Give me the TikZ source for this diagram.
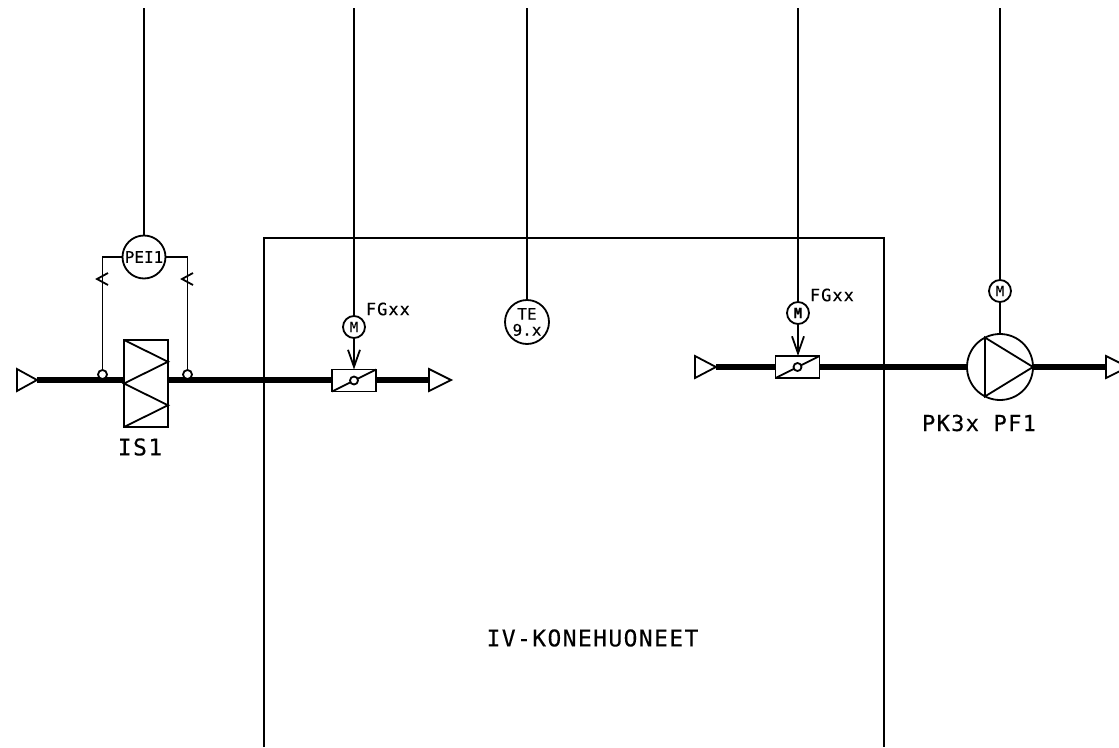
\documentclass[tikz,border=0pt]{standalone}
\usepackage{fontspec}
\newfontfamily\cadfont{DejaVu Sans Mono}[LetterSpace=6,FakeBold=0.3]
\newfontfamily\cadtight{DejaVu Sans Mono}[FakeBold=0.3]
\usetikzlibrary{arrows.meta}
\tikzset{
	fine/.style={line width=1.8pt},
	pipe/.style={line width=5.2pt},
	instr/.style={draw,circle,fine,fill=white,inner sep=0pt,outer sep=0pt,minimum size=#1},
	valve/.style={draw,rectangle,fine,fill=white,inner sep=0pt,outer sep=0pt,minimum width=44pt,minimum height=22pt},
	tapdot/.style={draw,circle,fine,fill=white,inner sep=0pt,outer sep=0pt,minimum size=#1},
	barb/.style={-{Straight Barb[length=17pt,width=12pt,line width=1.8pt]}},
	label/.style={inner sep=0pt,font=\cadfont\fontsize{#1}{#1}\selectfont}
}
\begin{document}
\begin{tikzpicture}[x=1pt,y=-1pt,fine]
	\path[use as bounding box,clip] (0,0) rectangle (1119,747);

	%free ends
	\coordinate (topA) at (144,8);
	\coordinate (topB) at (354,8);
	\coordinate (topC) at (527,8);
	\coordinate (topD) at (798,8);
	\coordinate (topE) at (1000,8);
	\coordinate (inA) at (37,380); %inlet left
	\coordinate (outA) at (429,380); %outlet left
	\coordinate (inB) at (716,367); %inlet right
	\coordinate (outB) at (1106,367); %outlet right
	\coordinate (tickA) at (102.5,279);
	\coordinate (tickB) at (187.5,279);

	%room
	\draw (264,747) |- (884,238) -- (884,747);

	%equipment
	\node[valve,minimum width=44pt,minimum height=87pt] (filter) at (146,383.5) {};
	\node[valve] (damperA) at (354,380.5) {};
	\node[valve] (damperB) at (797.5,367) {};
	\node[instr=66pt] (pump) at (1000,367) {};

	%pipes
	\draw[pipe] (inA) -- (inA -| filter.west);
	\draw[pipe] (inA -| filter.east) -- (inA -| damperA.west);
	\draw[pipe] (inA -| damperA.east) -- (outA);
	\draw[pipe] (inB) -- (damperB.west);
	\draw[pipe] (damperB.east) -- (pump.west);
	\draw[pipe] (pump.east) -- (outB);

	%triangles
	\draw (inA) -- ++(-20,-11) -- ++(0,22) -- cycle;
	\draw (outA) ++(0,-11) -- ++(22,11) -- ++(-22,11) -- cycle;
	\draw (inB) -- ++(-21,-11) -- ++(0,22) -- cycle;
	\draw (outB) ++(0,-11) -- ++(22,11) -- ++(-22,11) -- cycle;

	%filter and pump insides
	\draw (filter.north west) -- ++(44,21.75) -- ++(-44,21.75) -- ++(44,21.75) -- ++(-44,21.75);
	\draw (pump.117) -- (pump.243) -- (pump.east) -- cycle;

	%damper blades
	\draw (damperA.south west) -- (damperA.north east);
	\draw (damperB.south west) -- (damperB.north east);
	\node[tapdot=8pt] (bladeA) at (damperA.center) {};
	\node[tapdot=8pt] (bladeB) at (damperB.center) {};

	%instruments
	\node[instr=43pt,font=\cadtight\fontsize{16}{16}\selectfont] (pei) at (144,257) {PEI1};
	\node[instr=44pt,align=center,font=\cadtight\fontsize{16}{15}\selectfont] (te) at (527,322) {TE\\[1pt]9.x};
	\node[instr=22pt,font=\cadfont\fontsize{14}{14}\selectfont] (motorA) at (354,327) {M};
	\node[instr=22pt,font=\cadfont\bfseries\fontsize{14}{14}\selectfont] (motorB) at (798,313) {M};
	\node[instr=22pt,font=\cadfont\fontsize{14}{14}\selectfont] (motorC) at (1000,291) {M};
	\node[tapdot=9pt] (tapA) at (102.5,374.5) {};
	\node[tapdot=9pt] (tapB) at (187.5,374.5) {};

	%signal lines
	\draw (topA) -- (pei);
	\draw (topB) -- (motorA);
	\draw (topC) -- (te);
	\draw (topD) -- (motorB);
	\draw (topE) -- (motorC);
	\draw[barb] (motorA) -- (damperA.north -| motorA);
	\draw[barb] (motorB) -- (damperB.north -| motorB);
	\draw (motorC) -- (pump);
	\draw (pei.west) -| (tapA);
	\draw (pei.east) -| (tapB);

	%ticks
	\draw (tickA) ++(5.5,-6) -- ++(-11,6) -- ++(11,6);
	\draw (tickB) ++(5.5,-6) -- ++(-11,6) -- ++(11,6);

	%labels
	\node[label=17,anchor=west] (fgA) at (365,309) {FGxx};
	\node[label=17,anchor=west] (fgB) at (809,295) {FGxx};
	\node[label=23] (is1) at (140,447) {IS1};
	\node[label=22] (pk) at (979,423) {PK3x PF1};
	\node[label=23] (room) at (592.5,638) {IV-KONEHUONEET};

\end{tikzpicture}
\end{document}
